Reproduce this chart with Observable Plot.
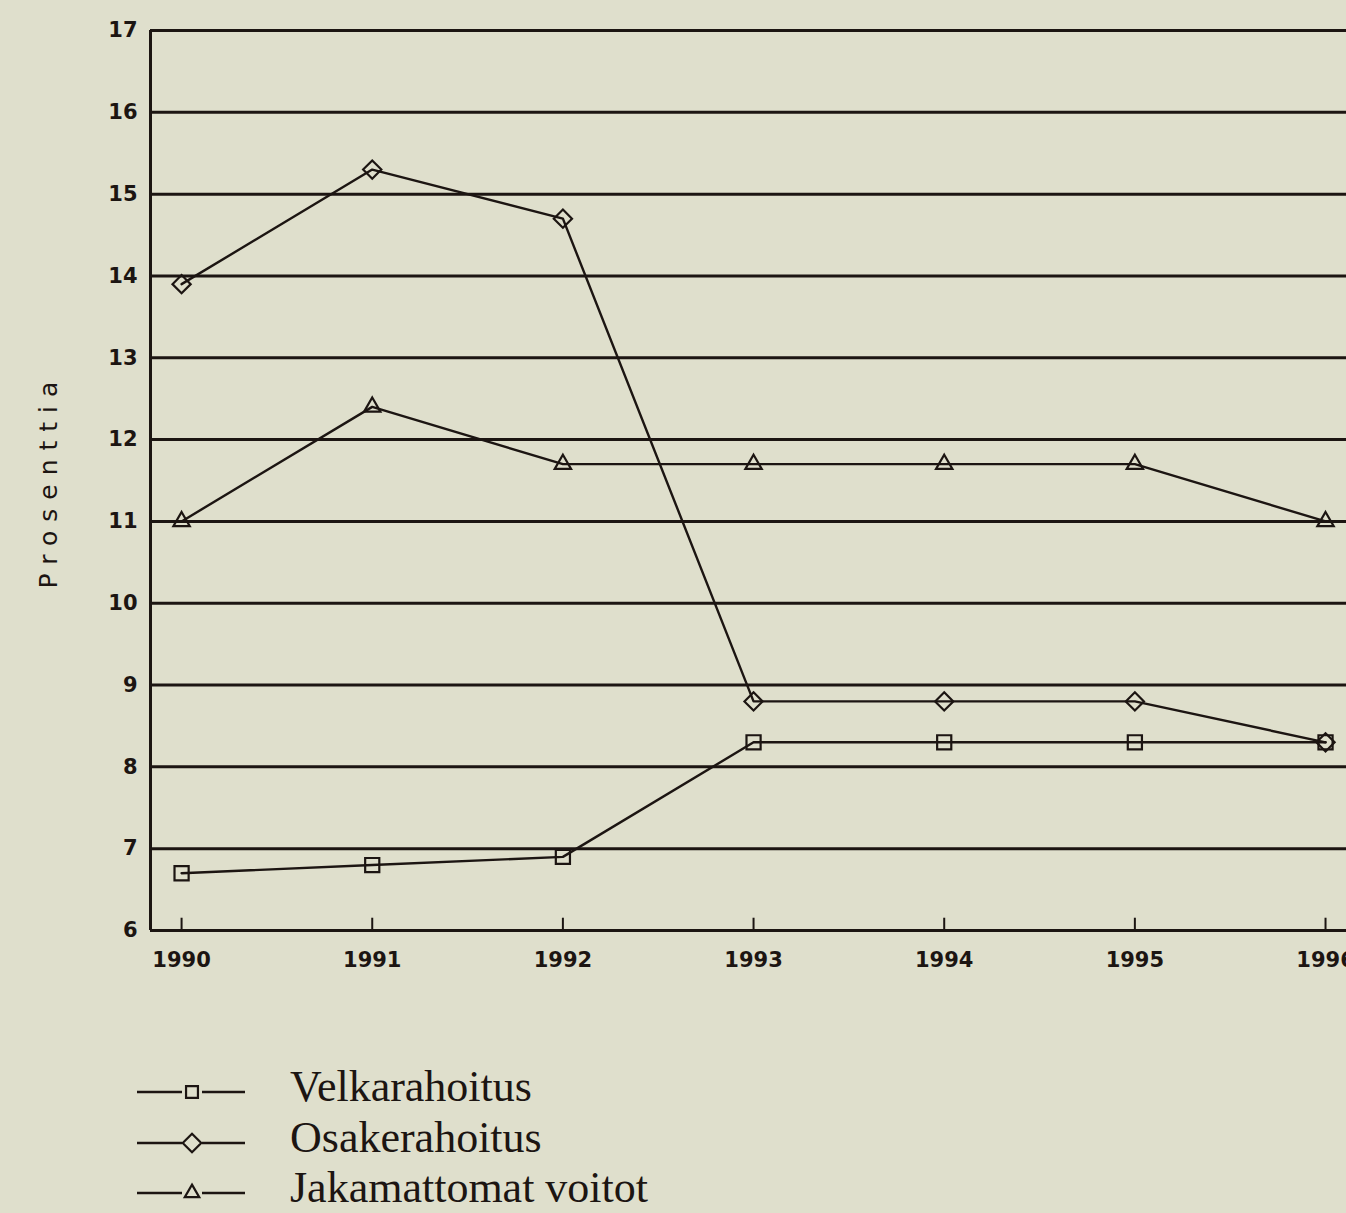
<!DOCTYPE html>
<html>
<head>
<meta charset="utf-8">
<script src="https://cdn.jsdelivr.net/npm/d3@7"></script>
<script src="https://cdn.jsdelivr.net/npm/@observablehq/plot@0.6"></script>
<style>
  html, body { margin: 0; padding: 0; background: #dfdfcc; }
  #wrap { position: relative; width: 1346px; height: 1213px; overflow: hidden; background: #dfdfcc; }
  #chart svg g[aria-label="y-axis tick label"] text,
  #chart svg g[aria-label="x-axis tick label"] text { font-family: "DejaVu Sans", sans-serif; font-weight: bold; font-size: 21px; fill: #1c1512; }
  #chart svg g[aria-label="text"] text { font-family: "DejaVu Sans", sans-serif; font-size: 25px; letter-spacing: 9px; fill: #1c1512; }
  #legend { position: absolute; left: 137px; top: 1061px; }
  .row { position: relative; height: 50.5px; width: 600px; }
  .row svg { position: absolute; left: 0; top: 0; }
  .row span { position: absolute; left: 153px; top: 0; font-family: "Liberation Serif", "Times New Roman", serif; font-size: 44px; line-height: 51.5px; color: #1c1512; white-space: nowrap; }
</style>
</head>
<body>
<div id="wrap">
  <div id="chart"></div>
  <div id="legend"></div>
</div>
<script>
const years = [1990, 1991, 1992, 1993, 1994, 1995, 1996];
const velkarahoitus = [6.7, 6.8, 6.9, 8.3, 8.3, 8.3, 8.3];
const osakerahoitus = [13.9, 15.3, 14.7, 8.8, 8.8, 8.8, 8.3];
const jakamattomat = [11.0, 12.4, 11.7, 11.7, 11.7, 11.7, 11.0];
const seriesNames = ["Velkarahoitus", "Osakerahoitus", "Jakamattomat voitot"];
const seriesSymbols = ["square2", "diamond2", "triangle2"];
const yTicks = [6, 7, 8, 9, 10, 11, 12, 13, 14, 15, 16, 17];
const yLabel = "Prosenttia";

const ink = "#1c1512";
const seriesValues = [velkarahoitus, osakerahoitus, jakamattomat];
const data = seriesNames.flatMap((name, i) =>
  years.map((year, j) => ({ series: name, year, value: seriesValues[i][j] })));
const xDomain = [1989.837, 1996.11];
const dotR = [9, 8.2, 7.8];

const marks = [
  Plot.ruleY(yTicks, { stroke: ink, strokeWidth: 3 }),
  Plot.ruleX([xDomain[0]], { stroke: ink, strokeWidth: 3 }),
  Plot.ruleX(years, { y1: 6, y2: 6.15, stroke: ink, strokeWidth: 2 }),
  Plot.axisY({ ticks: yTicks, tickSize: 0, tickPadding: 13, label: null, tickFormat: d => String(d) }),
  Plot.axisX({ ticks: years, tickSize: 0, tickPadding: 22, label: null, tickFormat: d => String(d) }),
  Plot.text([yLabel], { text: d => d, frameAnchor: "left", textAnchor: "middle", rotate: -90, dx: -102, dy: 0 })
];
seriesNames.forEach((name, i) => {
  const rows = data.filter(d => d.series === name);
  marks.push(Plot.line(rows, { x: "year", y: "value", stroke: ink, strokeWidth: 2.4 }));
  marks.push(Plot.dot(rows, { x: "year", y: "value", symbol: () => seriesSymbols[i], r: dotR[i], stroke: ink, strokeWidth: 2.2, fill: "none" }));
});

const chart = Plot.plot({
  width: 1346,
  height: 1000,
  marginTop: 30,
  marginBottom: 70,
  marginLeft: 150,
  marginRight: 0,
  x: { domain: xDomain },
  y: { domain: [6, 17] },
  symbol: { type: "identity" },
  style: { background: "transparent", color: ink, overflow: "visible" },
  marks
});
document.getElementById("chart").appendChild(chart);

// Legend
const legend = d3.select("#legend");
seriesNames.forEach((name, i) => {
  const row = legend.append("div").attr("class", "row");
  const svg = row.append("svg").attr("width", 110).attr("height", 52);
  const ly = 31;
  svg.append("line").attr("x1", 0).attr("x2", 45).attr("y1", ly).attr("y2", ly).attr("stroke", ink).attr("stroke-width", 2.4);
  svg.append("line").attr("x1", 65).attr("x2", 108).attr("y1", ly).attr("y2", ly).attr("stroke", ink).attr("stroke-width", 2.4);
  const symType = { square2: d3.symbolSquare2, diamond2: d3.symbolDiamond2, triangle2: d3.symbolTriangle2 }[seriesSymbols[i]];
  const size = [180, 220, 150][i];
  svg.append("path").attr("d", d3.symbol(symType, size)()).attr("transform", `translate(55,${ly})`)
    .attr("fill", "none").attr("stroke", ink).attr("stroke-width", 2.2);
  row.append("span").text(name);
});
</script>
</body>
</html>
